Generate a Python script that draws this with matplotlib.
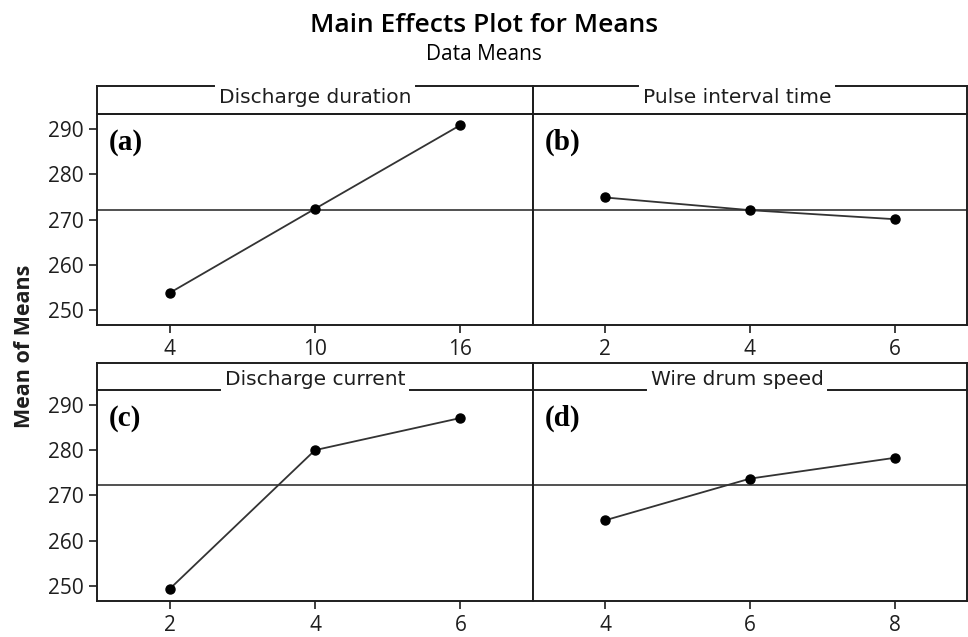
import matplotlib

matplotlib.use("Agg")
import matplotlib.pyplot as plt
from matplotlib.lines import Line2D

# ---- data ----
factors = ["Discharge duration", "Pulse interval time",
           "Discharge current", "Wire drum speed"]
panel_tags = ["(a)", "(b)", "(c)", "(d)"]
levels_a = [4, 10, 16]
levels_b = [2, 4, 6]
levels_c = [2, 4, 6]
levels_d = [4, 6, 8]
means_a = [253.8, 272.4, 290.9]
means_b = [274.9, 272.1, 270.1]
means_c = [249.3, 280.0, 287.1]
means_d = [264.5, 273.7, 278.3]
grand_mean = 272.2
y_ticks = [250, 260, 270, 280, 290]

# ---- style ----
INK = "#1e1e1e"
LINE = "#333333"
TICK_FONT = ["Open Sans", "DejaVu Sans"]
STRIP_FONT = ["DejaVu Sans"]

W, H = 968, 637
fig = plt.figure(figsize=(W / 100, H / 100), dpi=100)

# panel boxes in pixels: left, data-top, right, bottom, strip height, top row?
boxes = [
    (97, 114.3, 533, 325.0, 28.6, True),
    (533, 114.3, 967, 325.0, 28.6, True),
    (97, 390.0, 533, 600.7, 27.3, False),
    (533, 390.0, 967, 600.7, 27.3, False),
]
levels = [levels_a, levels_b, levels_c, levels_d]
means = [means_a, means_b, means_c, means_d]

axes = []
for i, (l, t, r, b, sh, top_row) in enumerate(boxes):
    ax = fig.add_axes([l / W, 1 - b / H, (r - l) / W, (b - t) / H])
    cats = [str(v) for v in levels[i]]
    ax.axhline(grand_mean, color=LINE, lw=1.2, zorder=2)
    ax.plot(cats, means[i], color=LINE, lw=1.3, marker="o", ms=6.5,
            mfc="black", mec="black", zorder=3)
    ax.set_xlim(-0.5, 2.5)
    ax.set_ylim(246.7, 293.3)
    ax.set_yticks(y_ticks)
    for sp in ax.spines.values():
        sp.set_color(INK)
        sp.set_linewidth(1.4)
    ax.tick_params(axis="both", direction="out", length=6, width=1.2,
                   color=INK, labelsize=15, labelcolor=INK)
    ax.tick_params(axis="x", pad=4)
    for lab in ax.get_xticklabels() + ax.get_yticklabels():
        lab.set_family(TICK_FONT)
    if i % 2 == 1:
        ax.tick_params(axis="y", left=False, labelleft=False)

    ax.text(0.027, 0.865, panel_tags[i], transform=ax.transAxes,
            family=["Liberation Serif", "DejaVu Serif"], fontweight="bold",
            fontsize=21, ha="left", va="center", color="black")

    sfrac = sh / (b - t)
    yc = 1 + sfrac * (0.6 if top_row else 0.4)
    xc = 0.5 if i % 2 == 0 else 0.47
    st = ax.text(xc, yc, factors[i], transform=ax.transAxes, ha="center",
                 va="center", fontsize=14.5, family=STRIP_FONT, color=INK)
    axes.append((ax, st, sfrac, top_row))

fig.canvas.draw()
renderer = fig.canvas.get_renderer()

# strip frame: the line next to the title is broken around the text
for ax, st, sfrac, top_row in axes:
    bb = st.get_window_extent(renderer).transformed(ax.transAxes.inverted())
    pad = 0.01
    g0, g1 = bb.x0 - pad, bb.x1 + pad
    ytop = 1 + sfrac
    kw = dict(transform=ax.transAxes, color=INK, lw=1.4, clip_on=False)
    ax.add_line(Line2D([0, 0], [1, ytop], **kw))
    ax.add_line(Line2D([1, 1], [1, ytop], **kw))
    broken_y = ytop if top_row else 1
    solid_y = 1 if top_row else ytop
    ax.add_line(Line2D([0, 1], [solid_y, solid_y], **kw))
    ax.add_line(Line2D([0, g0], [broken_y, broken_y], **kw))
    ax.add_line(Line2D([g1, 1], [broken_y, broken_y], **kw))
    if not top_row:
        ax.spines["top"].set_visible(False)

fig.text(0.5, 1 - 25 / H, "Main Effects Plot for Means", ha="center",
         va="center", fontsize=19, fontweight="semibold", family=TICK_FONT,
         color="black")
fig.text(0.5, 1 - 54 / H, "Data Means", ha="center", va="center",
         fontsize=15, family=TICK_FONT, color="black")
fig.text(25 / W, 1 - 346 / H, "Mean of Means", rotation=90, ha="center",
         va="center", fontsize=15.5, fontweight="bold", family=TICK_FONT,
         color=INK)

fig.savefig("out.png", dpi=100, facecolor="white")
